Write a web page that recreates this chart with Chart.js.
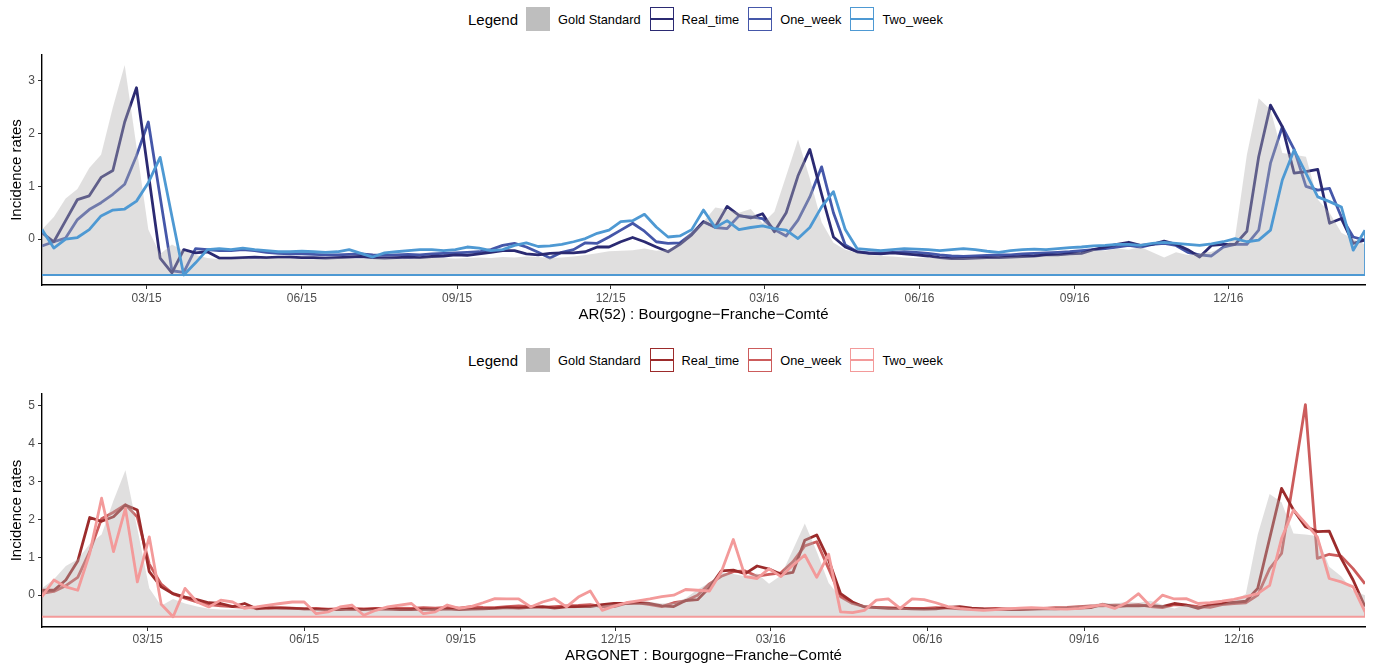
<!DOCTYPE html>
<html lang="en">
<head>
    <meta charset="UTF-8">
    <title>Incidence rates - Bourgogne-Franche-Comté</title>
    <script src="https://cdn.jsdelivr.net/npm/chart.js"></script>
    <style>
        body {
            margin: 0;
            background: #ffffff;
            font-family: "Liberation Sans", Arial, sans-serif;
            width: 1378px;
            height: 668px;
            overflow: hidden;
            position: relative;
        }
        .legend {
            position: absolute;
            left: 468px;
            height: 24px;
            display: flex;
            align-items: center;
            font-size: 12.8px;
            color: #000;
            white-space: nowrap;
        }
        .legend .ltitle { font-size: 15px; margin-right: 8px; }
        .legend .key {
            width: 24px;
            height: 24px;
            box-sizing: border-box;
            position: relative;
            margin-right: 8px;
        }
        .legend .key.area { background: #bebebe; }
        .legend .key.line { border: 1.5px solid; background: #fff; }
        .legend .key.line span {
            position: absolute; left: 0; right: 0; top: 50%;
            height: 2.8px; margin-top: -1.4px;
        }
        .legend .label { margin-right: 9px; }
        canvas { position: absolute; left: 0; }
    </style>
</head>
<body>
    <div class="legend" id="legendTop" style="top:7px"></div>
    <canvas id="chartAR" width="1378" height="292" style="top:40px"></canvas>
    <div class="legend" id="legendBottom" style="top:348px"></div>
    <canvas id="chartARGONET" width="1378" height="288" style="top:380px"></canvas>

    <script>
        // weekly series, first week starts Monday 29/12/2014
        const firstWeek = Date.UTC(2014, 11, 29);
        const xTickLabels = ['03/15', '06/15', '09/15', '12/15', '03/16', '06/16', '09/16', '12/16'];
        const yTicksAR = [0, 1, 2, 3];
        const yTicksARGONET = [0, 1, 2, 3, 4, 5];
        const seriesNames = ['Gold Standard', 'Real_time', 'One_week', 'Two_week'];

        const goldStandard = [
            0.18, 0.42, 0.77, 0.95, 1.35, 1.6, 2.5, 3.3, 1.75, 0.18, -0.28, -0.1, -0.22, -0.3, -0.36, -0.38,
            -0.38, -0.37, -0.38, -0.37, -0.36, -0.37, -0.38, -0.38, -0.37, -0.36, -0.37, -0.38, -0.37, -0.36, -0.37,
            -0.38, -0.36, -0.35, -0.36, -0.37, -0.36, -0.35, -0.36, -0.34, -0.35, -0.33, -0.34, -0.36, -0.35,
            -0.33, -0.3, -0.27, -0.23, -0.22, -0.21, -0.18, -0.22, -0.2, -0.08, 0.15, 0.33, 0.6, 0.56, 0.5, 0.57,
            0.3, 0.52, 1.2, 1.89, 1.15, 0.32, -0.07, -0.2, -0.26, -0.3,
            -0.32, -0.33, -0.35, -0.36, -0.35, -0.36, -0.37, -0.36, -0.35, -0.36, -0.35, -0.34, -0.33, -0.34,
            -0.32, -0.3, -0.28, -0.25, -0.2, -0.22, -0.18, -0.2, -0.15, -0.25, -0.35,
            -0.25, -0.3, -0.27, -0.24, -0.15, 0.03, 1.6, 2.67, 2.45, 1.63, 1.6, 1.56, 0.75, 0.5, 0.12, 0.0, -0.1
        ];

        // AR(52)
        const arRealTime = [
            0.12, -0.05, 0.35, 0.75, 0.82, 1.17, 1.3, 2.22, 2.87, 1.25, -0.36, -0.64, -0.2, -0.26, -0.24, -0.36,
            -0.36, -0.35, -0.34, -0.35, -0.34, -0.34, -0.35, -0.35, -0.36, -0.35, -0.34, -0.33, -0.35, -0.36, -0.35,
            -0.34, -0.35, -0.33, -0.32, -0.3, -0.31, -0.28, -0.25, -0.22, -0.22, -0.28, -0.3, -0.27, -0.26, -0.26,
            -0.24, -0.15, -0.15, -0.05, 0.03, -0.05, -0.15, -0.24, -0.1, 0.08, 0.33, 0.23, 0.62, 0.45, 0.4, 0.48,
            0.14, 0.5, 1.2, 1.7, 0.85, 0.04, -0.15, -0.24, -0.27,
            -0.28, -0.26, -0.28, -0.3, -0.32, -0.35, -0.37, -0.37, -0.36, -0.35, -0.35, -0.34, -0.33, -0.32, -0.3,
            -0.3, -0.28, -0.27, -0.2, -0.15, -0.1, -0.06, -0.12, -0.1, -0.04, -0.1, -0.2, -0.34, -0.12, -0.1,
            -0.1, 0.15, 1.56, 2.54, 2.13, 1.25, 1.28, 1.32, 0.3, 0.39, -0.08, -0.02
        ];
        const arOneWeek = [
            -0.13, -0.05, 0.02, 0.37, 0.56, 0.69, 0.85, 1.04, 1.58, 2.22, 0.8, -0.6, -0.63, -0.18, -0.2, -0.22,
            -0.22, -0.2, -0.22, -0.25, -0.27, -0.28, -0.28, -0.29, -0.3, -0.3, -0.29, -0.28, -0.3, -0.31, -0.3,
            -0.29, -0.3, -0.28, -0.27, -0.26, -0.25, -0.24, -0.2, -0.12, -0.08, -0.15, -0.25, -0.36, -0.25, -0.2,
            -0.07, -0.08, 0.04, 0.17, 0.3, 0.15, -0.05, -0.08, -0.07, 0.1, 0.33, 0.22, 0.2, 0.44, 0.42, 0.39,
            0.18, 0.06, 0.36, 0.8, 1.37, 0.5, -0.11, -0.24, -0.26,
            -0.26, -0.25, -0.24, -0.25, -0.27, -0.3, -0.32, -0.33, -0.32, -0.31, -0.3, -0.3, -0.28, -0.27, -0.26,
            -0.25, -0.24, -0.22, -0.2, -0.18, -0.15, -0.12, -0.15, -0.1, -0.08, -0.12, -0.25, -0.3, -0.32, -0.15,
            -0.1, -0.1, 0.17, 1.44, 2.13, 1.7, 1.0, 0.93, 0.96, 0.42, 0.04, -0.02
        ];
        const arTwoWeek = [
            0.18, -0.17, 0.0, 0.03, 0.18, 0.44, 0.55, 0.57, 0.72, 1.07, 1.55, 0.43, -0.68, -0.45, -0.2, -0.18,
            -0.2, -0.17, -0.2, -0.22, -0.24, -0.24, -0.23, -0.24, -0.25, -0.24, -0.2, -0.27, -0.34, -0.26, -0.24,
            -0.22, -0.2, -0.2, -0.22, -0.2, -0.15, -0.17, -0.22, -0.2, -0.12, -0.07, -0.14, -0.13, -0.1, -0.05,
            0.01, 0.11, 0.17, 0.33, 0.35, 0.47, 0.23, 0.04, 0.06, 0.18, 0.55, 0.22, 0.35, 0.18, 0.22, 0.25,
            0.2, 0.17, 0.01, 0.22, 0.61, 0.9, 0.18, -0.18, -0.2,
            -0.22, -0.2, -0.18, -0.19, -0.2, -0.22, -0.2, -0.18, -0.2, -0.23, -0.25, -0.22, -0.2, -0.19, -0.2,
            -0.18, -0.16, -0.15, -0.13, -0.12, -0.1, -0.1, -0.12, -0.08, -0.06, -0.08, -0.1, -0.12, -0.09, -0.05,
            0.01, -0.05, -0.02, 0.17, 1.12, 1.69, 1.25, 0.8, 0.71, 0.61, -0.21, 0.17
        ];

        // ARGONET
        const argRealTime = [
            0.13, 0.13, 0.4, 0.9, 2.05, 1.95, 2.07, 2.38, 2.25, 0.62, 0.22, 0.04, -0.05, -0.12, -0.2, -0.22,
            -0.3, -0.22, -0.36, -0.33, -0.34, -0.35, -0.36, -0.37, -0.38, -0.38, -0.37, -0.38, -0.36, -0.37, -0.38,
            -0.38, -0.37, -0.38, -0.36, -0.38, -0.37, -0.36, -0.35, -0.33, -0.34, -0.32, -0.3, -0.34, -0.31, -0.3,
            -0.3, -0.25, -0.22, -0.22, -0.2, -0.22, -0.28, -0.3, -0.14, -0.12, 0.2, 0.64, 0.66, 0.57, 0.77, 0.69,
            0.55, 0.6, 1.45, 1.59, 0.93, 0.04, -0.18, -0.31, -0.33,
            -0.35, -0.35, -0.36, -0.37, -0.36, -0.32, -0.3, -0.34, -0.36, -0.37, -0.38, -0.38, -0.37, -0.36, -0.36,
            -0.35, -0.34, -0.33, -0.24, -0.3, -0.28, -0.28, -0.27, -0.3,
            -0.22, -0.26, -0.35, -0.25, -0.22, -0.19, -0.16, 0.18, 1.5, 2.82, 2.25, 1.81, 1.68, 1.69, 0.97, 0.4, -0.3
        ];
        const argOneWeek = [
            0.05, 0.1, 0.25, 0.47, 1.15, 2.02, 2.19, 2.39, 2.06, 0.82, 0.29, 0.03, -0.08, -0.18, -0.25, -0.28,
            -0.3, -0.32, -0.34, -0.35, -0.33, -0.34, -0.36, -0.35, -0.37, -0.36, -0.35, -0.36, -0.35, -0.36, -0.34,
            -0.35, -0.33, -0.34, -0.32, -0.34, -0.3, -0.32, -0.33, -0.3, -0.28, -0.3, -0.32, -0.3, -0.28, -0.27,
            -0.25, -0.3, -0.3, -0.22, -0.2, -0.25, -0.3, -0.2, -0.15, 0.0, 0.3, 0.5, 0.62, 0.64, 0.5, 0.55,
            0.59, 0.88, 1.3, 1.41, 0.7, -0.04, -0.22, -0.3, -0.32,
            -0.33, -0.34, -0.35, -0.35, -0.33, -0.34, -0.36, -0.37, -0.36, -0.35, -0.36, -0.37, -0.36, -0.35, -0.33,
            -0.32, -0.3, -0.28, -0.28, -0.26, -0.27, -0.25, -0.3, -0.33, -0.25, -0.26, -0.3, -0.32, -0.25, -0.22,
            -0.2, 0.0, 0.7, 1.1, 3.05, 5.03, 0.97, 1.08, 1.03, 0.7, 0.3
        ];
        const argTwoWeek = [
            -0.04, 0.4, 0.22, 0.13, 1.1, 2.56, 1.15, 2.29, 0.35, 1.54, -0.24, -0.57, 0.18, -0.18, -0.31,
            -0.13, -0.18, -0.35, -0.31, -0.26, -0.22, -0.18, -0.18, -0.49, -0.44, -0.31, -0.26, -0.53, -0.4, -0.31,
            -0.26, -0.22, -0.49, -0.44, -0.26, -0.35,
            -0.3, -0.2, -0.09, -0.1, -0.1, -0.31, -0.18, -0.09, -0.31, -0.05,
            0.11, -0.4, -0.29, -0.2, -0.15, -0.1, -0.04, 0.0, 0.15, 0.13, 0.11, 0.62, 1.47, 0.49, 0.44, 0.7,
            0.49, 0.79, 1.06, 0.47, 1.08, -0.44, -0.46, -0.4, -0.13, -0.1, -0.35,
            -0.1, -0.12, -0.2, -0.3, -0.35, -0.38, -0.4, -0.38, -0.36, -0.34, -0.33, -0.34, -0.36, -0.37, -0.35,
            -0.3, -0.25, -0.35, -0.2, 0.04, -0.29, 0.0,
            -0.1, -0.09, -0.22, -0.2, -0.16, -0.11, -0.04, 0.04, 0.26, 1.5, 2.25, 1.9, 1.54, 0.44, 0.35, 0.22, -0.44
        ];

        const arColors = ['#2b2a72', '#4557a9', '#4e99d3'];
        const argColors = ['#9c2b2b', '#cc5c5c', '#f39a9a'];

        Chart.defaults.font.family = '"Liberation Sans", Arial, sans-serif';

        // days since the first week for a "MM/YY" label (1st of month)
        function labelToDay(lab) {
            const m = parseInt(lab.slice(0, 2), 10) - 1;
            const y = 2000 + parseInt(lab.slice(3), 10);
            return Math.round((Date.UTC(y, m, 1) - firstWeek) / 864e5);
        }
        const xTickDays = xTickLabels.map(labelToDay);

        function buildLegend(id, colors) {
            const el = document.getElementById(id);
            let html = '<span class="ltitle">Legend</span>';
            html += '<span class="key area"></span><span class="label">' + seriesNames[0] + '</span>';
            for (let k = 0; k < 3; k++) {
                html += '<span class="key line" style="border-color:' + colors[k] + '"><span style="background:' + colors[k] + '"></span></span>';
                html += '<span class="label">' + seriesNames[k + 1] + '</span>';
            }
            el.innerHTML = html;
        }

        function lineSet(label, values, days, color) {
            return {
                label: label,
                data: values.map((v, i) => ({x: days[i], y: v})),
                borderColor: color,
                borderWidth: 2.8,
                borderJoinStyle: 'round',
                pointRadius: 0,
                fill: false,
                tension: 0
            };
        }

        function makePanel(id, p) {
            const n = p.real.length;
            const days = p.real.map((_, i) => i * 7);
            const last = n - 1;
            const base = Math.min(...p.two);
            const outline = [
                {x: days[last], y: p.two[last]},
                {x: days[last], y: base},
                {x: days[0], y: base}
            ];
            new Chart(document.getElementById(id), {
                type: 'line',
                data: {
                    datasets: [
                        lineSet('Two_week', p.two, days, p.colors[2]),
                        {
                            label: 'base', data: outline, borderColor: p.colors[2], borderWidth: 1.8,
                            pointRadius: 0, fill: false, tension: 0
                        },
                        {
                            label: 'Gold Standard',
                            data: goldStandard.slice(0, n).map((v, i) => ({x: days[i], y: v})),
                            borderColor: 'rgba(0,0,0,0)', borderWidth: 0, pointRadius: 0,
                            backgroundColor: 'rgba(178,176,174,0.4)',
                            fill: {value: base}, tension: 0
                        },
                        lineSet('Real_time', p.real, days, p.colors[0]),
                        lineSet('One_week', p.one, days, p.colors[1])
                    ]
                },
                options: {
                    responsive: false,
                    animation: false,
                    devicePixelRatio: 1,
                    events: [],
                    layout: {padding: {top: p.padTop, right: 13, left: 0, bottom: 0}},
                    plugins: {legend: {display: false}, tooltip: {enabled: false}},
                    scales: {
                        x: {
                            type: 'linear',
                            min: 0,
                            max: days[last],
                            afterBuildTicks: s => { s.ticks = xTickDays.map(v => ({value: v})); },
                            afterFit: s => { s.height = p.xHeight; },
                            ticks: {
                                autoSkip: false, maxRotation: 0, padding: p.xTickPad,
                                color: '#4d4d4d', font: {size: 12},
                                callback: (v, i) => xTickLabels[i]
                            },
                            grid: {drawOnChartArea: false, drawTicks: true, tickLength: 4, color: '#333', lineWidth: 1},
                            border: {display: true, color: '#000', width: 1.4},
                            title: {display: true, text: p.xTitle, color: '#000', font: {size: 15}, padding: {top: 0, bottom: p.xTitlePad}}
                        },
                        y: {
                            min: p.yMin,
                            max: p.yMax,
                            afterBuildTicks: s => { s.ticks = p.yTicks.map(v => ({value: v})); },
                            afterFit: s => { s.width = 42; },
                            ticks: {padding: 3, color: '#4d4d4d', font: {size: 12}},
                            grid: {drawOnChartArea: false, drawTicks: true, tickLength: 4, color: '#333', lineWidth: 1},
                            border: {display: true, color: '#000', width: 1.4},
                            title: {display: true, text: 'Incidence rates', color: '#000', font: {size: 15}, padding: {top: 8, bottom: 0}}
                        }
                    }
                }
            });
        }

        buildLegend('legendTop', arColors);
        buildLegend('legendBottom', argColors);

        makePanel('chartAR', {
            real: arRealTime, one: arOneWeek, two: arTwoWeek, colors: arColors,
            yMin: -0.87, yMax: 3.49, yTicks: yTicksAR,
            padTop: 15, xHeight: 47, xTickPad: 2, xTitlePad: 8,
            xTitle: 'AR(52) : Bourgogne\u2212Franche\u2212Comté'
        });
        makePanel('chartARGONET', {
            real: argRealTime, one: argOneWeek, two: argTwoWeek, colors: argColors,
            yMin: -0.84, yMax: 5.31, yTicks: yTicksARGONET,
            padTop: 14, xHeight: 41, xTickPad: 1, xTitlePad: 3,
            xTitle: 'ARGONET : Bourgogne\u2212Franche\u2212Comté'
        });
    </script>
</body>
</html>
